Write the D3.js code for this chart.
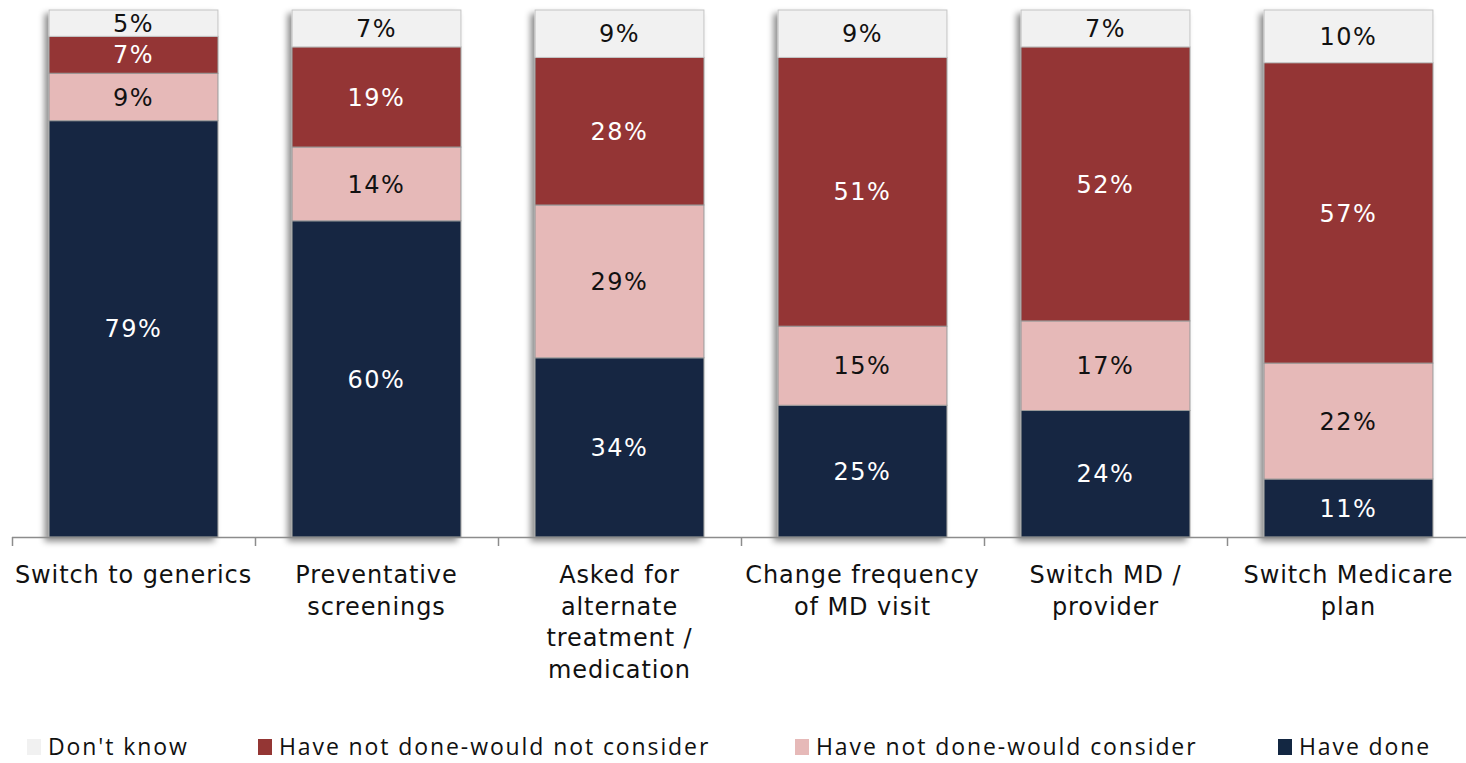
<!DOCTYPE html>
<html>
<head>
<meta charset="utf-8">
<script src="https://cdn.jsdelivr.net/npm/d3@7"></script>
<style>
  html, body { margin: 0; padding: 0; background: #fff; }
  svg { display: block; }
</style>
</head>
<body>
<svg id="chart" width="1466" height="763"></svg>
<script>
// Categories (multi-line labels split by "\n")
const categories = [
  "Switch to generics",
  "Preventative\nscreenings",
  "Asked for\nalternate\ntreatment /\nmedication",
  "Change frequency\nof MD visit",
  "Switch MD /\nprovider",
  "Switch Medicare\nplan"
];

// Series values (percent), stacked bottom to top
const haveDone        = [79, 60, 34, 25, 24, 11];
const wouldConsider   = [9, 14, 29, 15, 17, 22];
const wouldNotConsider= [7, 19, 28, 51, 52, 57];
const dontKnow        = [5, 7, 9, 9, 7, 10];

const seriesNames = ["Have done", "Have not done-would consider", "Have not done-would not consider", "Don't know"];
const seriesColors = ["#132742", "#e6b9b8", "#943634", "#f1f1f1"];
const labelColors  = ["#ffffff", "#111111", "#ffffff", "#111111"];
const legendOrder = [3, 2, 1, 0];

const rows = categories.map((c, i) => ({
  cat: c,
  "Have done": haveDone[i],
  "Have not done-would consider": wouldConsider[i],
  "Have not done-would not consider": wouldNotConsider[i],
  "Don't know": dontKnow[i]
}));

const svg = d3.select("#chart");

// Soft shadow behind each bar
const defs = svg.append("defs");
const f = defs.append("filter").attr("id", "shadow")
  .attr("x", "-20%").attr("y", "-20%").attr("width", "140%").attr("height", "140%");
f.append("feDropShadow")
  .attr("dx", -4).attr("dy", 4).attr("stdDeviation", 3)
  .attr("flood-color", "#000").attr("flood-opacity", 0.45);

const x = d3.scaleBand()
  .domain(categories)
  .range([12, 1470])
  .paddingInner(0.305)
  .paddingOuter(0.1525);

const y = d3.scaleLinear().domain([0, 100]).range([537, 10]);

const stack = d3.stack().keys(seriesNames);
const stacked = stack(rows);

// Bars (shadow drawn once per whole column)
const cols = svg.append("g");
categories.forEach((c, i) => {
  const g = cols.append("g").attr("filter", "url(#shadow)");
  stacked.forEach((s, k) => {
    const d = s[i];
    g.append("rect")
      .attr("x", x(c))
      .attr("width", x.bandwidth())
      .attr("y", y(d[1]))
      .attr("height", y(d[0]) - y(d[1]))
      .attr("fill", seriesColors[k])
      .attr("stroke", k === 3 ? "#c4c4c4" : "#9a9a9a")
      .attr("stroke-width", 1);
  });
});

// Value labels
stacked.forEach((s, k) => {
  svg.append("g").selectAll("text")
    .data(s)
    .join("text")
    .attr("x", d => x(d.data.cat) + x.bandwidth() / 2)
    .attr("y", d => (y(d[0]) + y(d[1])) / 2)
    .attr("dy", "0.36em")
    .attr("text-anchor", "middle")
    .attr("font-family", "'DejaVu Sans', Verdana, sans-serif")
    .attr("font-size", 24)
    .attr("letter-spacing", 1.5)
    .attr("fill", labelColors[k])
    .text(d => (d[1] - d[0]) + "%");
});

// Category axis with ticks at band boundaries
const axisG = svg.append("g");
axisG.append("line")
  .attr("x1", 12).attr("x2", 1466)
  .attr("y1", 537.5).attr("y2", 537.5)
  .attr("stroke", "#8c8c8c").attr("stroke-width", 1.5);
const step = x.step();
d3.range(categories.length + 1).forEach(i => {
  const tx = Math.round(12 + i * step) + 0.5;
  axisG.append("line")
    .attr("x1", tx).attr("x2", tx)
    .attr("y1", 537).attr("y2", 546)
    .attr("stroke", "#8c8c8c").attr("stroke-width", 1.5);
});

// Category labels
categories.forEach(c => {
  const lines = c.split("\n");
  const t = svg.append("text")
    .attr("text-anchor", "middle")
    .attr("font-family", "'DejaVu Sans', Verdana, sans-serif")
    .attr("font-size", 24)
    .attr("letter-spacing", 0.9)
    .attr("fill", "#111");
  lines.forEach((ln, j) => {
    t.append("tspan")
      .attr("x", x(c) + x.bandwidth() / 2)
      .attr("y", 583 + j * 31.5)
      .text(ln);
  });
});

// Legend
const legendX = [27, 258, 795, 1278];
const legend = svg.append("g");
legendOrder.forEach((k, j) => {
  legend.append("rect")
    .attr("x", legendX[j]).attr("y", 739)
    .attr("width", 14).attr("height", 16)
    .attr("fill", seriesColors[k]);
  legend.append("text")
    .attr("x", legendX[j] + 21)
    .attr("y", 755)
    .attr("font-family", "'Open Sans', sans-serif")
    .attr("font-size", 23)
    .attr("letter-spacing", 1.9)
    .attr("fill", "#111")
    .text(seriesNames[k]);
});
</script>
</body>
</html>
